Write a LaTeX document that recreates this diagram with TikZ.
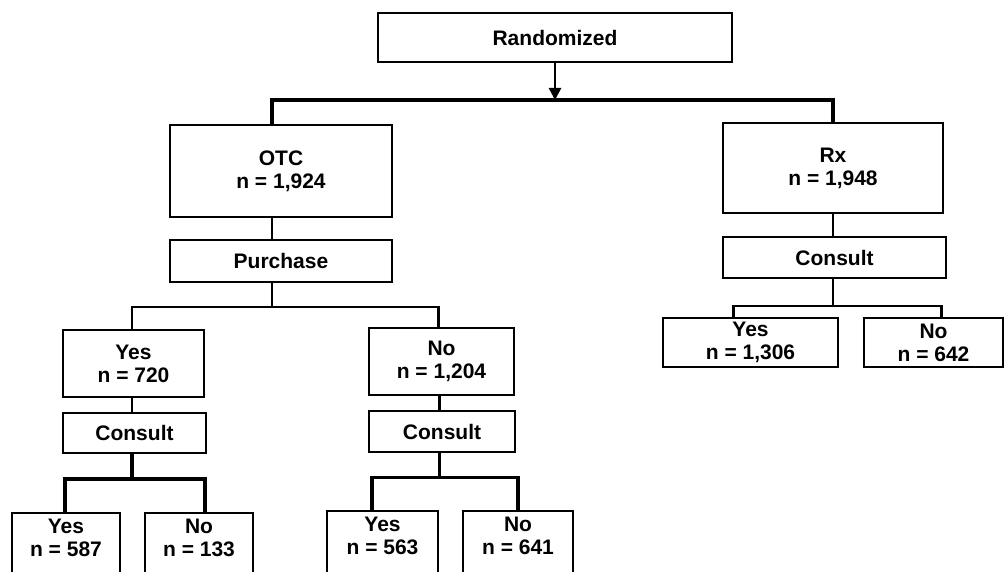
\documentclass[tikz,border=0pt]{standalone}
\usepackage{fontspec}
\setmainfont{Liberation Sans}
\usetikzlibrary{arrows.meta}
\begin{document}
\begin{tikzpicture}[x=1pt,y=-1pt,
  box/.style={draw,line width=2pt,rectangle,inner sep=0pt,align=center,
    font=\fontsize{21}{23}\selectfont\bfseries},
  conn/.style={line width=2.6pt},
  heavy/.style={line width=3.6pt}]
\useasboundingbox (0,0) rectangle (1004,572);
\clip (0,0) rectangle (1004,572);
\fill[white] (0,0) rectangle (1004,572);
% nodes
\node[box,minimum width=354pt,minimum height=49pt] (rand) at (555,37.5) {Randomized};
\node[box,minimum width=222pt,minimum height=92pt] (otc) at (281,171) {OTC\\n = 1,924};
\node[box,minimum width=222pt,minimum height=42pt] (purch) at (281,261) {Purchase};
\node[box,minimum width=220pt,minimum height=90pt] (rx) at (833,168) {Rx\\n = 1,948};
\node[box,minimum width=223pt,minimum height=41pt] (consR) at (834.5,257.5) {Consult};
\node[box,minimum width=175pt,minimum height=49pt] (yesR) at (750.5,342.5) {Yes\\n = 1,306};
\node[box,minimum width=139pt,minimum height=49pt] (noR) at (933.5,342.5) {No\\n = 642};
\node[box,minimum width=141pt,minimum height=67pt] (yesL) at (133.5,363.5) {Yes\\n = 720};
\node[box,minimum width=143pt,minimum height=40pt] (consL) at (134.5,433) {Consult};
\node[box,minimum width=145pt,minimum height=67pt] (noM) at (441.5,361.5) {No\\n = 1,204};
\node[box,minimum width=146pt,minimum height=41pt] (consM) at (442,431.5) {Consult};
\node[box,minimum width=108pt,anchor=north,inner ysep=4pt] (y587) at (66,512)
  {\begin{tabular}{@{}c@{}}Yes\\n = 587\\[40pt]\end{tabular}};
\node[box,minimum width=108pt,anchor=north,inner ysep=4pt] (n133) at (199,512)
  {\begin{tabular}{@{}c@{}}No\\n = 133\\[40pt]\end{tabular}};
\node[box,minimum width=111pt,anchor=north,inner ysep=4pt] (y563) at (382.5,510)
  {\begin{tabular}{@{}c@{}}Yes\\n = 563\\[40pt]\end{tabular}};
\node[box,minimum width=110pt,anchor=north,inner ysep=4pt] (n641) at (518,510)
  {\begin{tabular}{@{}c@{}}No\\n = 641\\[40pt]\end{tabular}};
% connectors
\coordinate (bar) at (555,100);
\draw[conn,-{Triangle[length=12pt,width=12pt]}] (rand.south) -- (bar);
\draw[heavy] ([xshift=-9pt]otc.north) |- (bar) -| (rx.north);
\draw[conn] ([xshift=-9pt]otc.south) -- ([xshift=-9pt]otc.south |- purch.north);
\draw[conn] ([xshift=-9pt]purch.south) -- ++(0,24) coordinate (pb) -| ([xshift=-1.5pt]yesL.north);
\draw[conn] (pb) -| ([xshift=-3pt]noM.north);
\draw[conn] (rx.south) -- (rx.south |- consR.north);
\draw[conn] (consR.south -| rx.south) -- ++(0,27) coordinate (rb) -| ([xshift=-17pt]yesR.north);
\draw[conn] (rb) -| ([xshift=8pt]noR.north);
\draw[conn] ([xshift=-1.5pt]yesL.south) -- ([xshift=-1.5pt]yesL.south |- consL.north);
\draw[heavy] ([xshift=-1.5pt]yesL.south |- consL.south) -- ++(0,25) coordinate (lb) -| ([xshift=-1pt]y587.north);
\draw[heavy] (lb) -| ([xshift=6pt]n133.north);
\draw[conn] ([xshift=-2pt]noM.south) -- ([xshift=-2pt]noM.south |- consM.north);
\draw[heavy] ([xshift=-2pt]noM.south |- consM.south) -- ++(0,24.5) coordinate (mb) -| ([xshift=-10.5pt]y563.north);
\draw[heavy] (mb) -| (n641.north);
\end{tikzpicture}
\end{document}
